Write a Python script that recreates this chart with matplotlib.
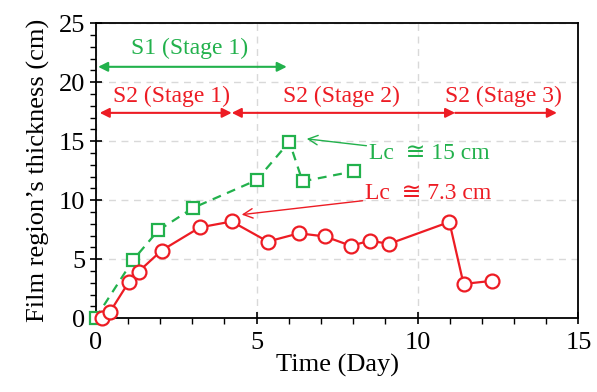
import matplotlib.pyplot as plt
from matplotlib.ticker import MultipleLocator

plt.rcParams['font.family'] = ['Liberation Serif', 'DejaVu Serif', 'DejaVu Sans']

RED = '#ed1c24'
GREEN = '#22b14c'

# Lc = 7.3 cm (red circles)
t_red = [0.19, 0.44, 1.04, 1.34, 2.05, 3.24, 4.23, 5.35, 6.32, 7.13, 7.93,
         8.52, 9.12, 10.99, 11.43, 12.31]
h_red = [0.05, 0.5, 3.1, 3.96, 5.74, 7.7, 8.2, 6.5, 7.2, 6.93, 6.14,
         6.57, 6.31, 8.16, 2.91, 3.17]

# Lc = 15 cm (green squares)
t_green = [0.0, 1.17, 1.95, 3.03, 5.0, 6.02, 6.43, 8.03]
h_green = [0.0, 4.95, 7.45, 9.35, 11.7, 14.95, 11.6, 12.45]

fig = plt.figure(figsize=(5.97, 3.92), dpi=100)
ax = fig.add_axes([0.160, 0.188, 0.809, 0.753])

ax.plot(t_green, h_green, color=GREEN, lw=1.6, ls=(0, (4, 3)), marker='s',
        ms=9, mfc='white', mec=GREEN, mew=1.6, clip_on=False, zorder=3)
ax.plot(t_red, h_red, color=RED, lw=1.6, marker='o', ms=10,
        mfc='white', mec=RED, mew=1.6, clip_on=False, zorder=4)

ax.set_xlim(0, 15)
ax.set_ylim(0, 25)
ax.xaxis.set_major_locator(MultipleLocator(5))
ax.xaxis.set_minor_locator(MultipleLocator(1))
ax.yaxis.set_major_locator(MultipleLocator(5))
ax.yaxis.set_minor_locator(MultipleLocator(1))
ax.tick_params(which='major', direction='inout', length=8, width=1.2,
               labelsize=19, top=False, right=False)
ax.tick_params(which='minor', direction='out', length=4, width=1.0,
               top=False, right=False)
ax.tick_params(axis='x', pad=6)
ax.grid(True, which='major', color='#d9d9d9', ls=(0, (5, 4)), lw=1.0)
for s in ax.spines.values():
    s.set_linewidth(1.3)

ax.set_xlabel('Time (Day)', fontsize=19, labelpad=0)
ax.set_ylabel('Film region\u2019s thickness (cm)', fontsize=19, labelpad=6)

# stage arrows
arr = dict(arrowstyle='<|-|>', color=GREEN, lw=1.5, mutation_scale=14,
           shrinkA=0, shrinkB=0)
ax.annotate('', xy=(5.94, 21.3), xytext=(0.08, 21.3), arrowprops=arr,
            annotation_clip=False)
ax.text(2.93, 22.9, 'S1 (Stage 1)', color=GREEN, fontsize=17,
        ha='center', va='center')

arr_r = dict(arr, color=RED)
ax.annotate('', xy=(4.23, 17.4), xytext=(0.13, 17.4), arrowprops=arr_r)
ax.annotate('', xy=(11.17, 17.4), xytext=(4.23, 17.4), arrowprops=arr_r)
ax.annotate('', xy=(14.33, 17.4), xytext=(11.17, 17.4),
            arrowprops=dict(arr_r, arrowstyle='-|>'))
ax.text(2.36, 18.8, 'S2 (Stage 1)', color=RED, fontsize=17,
        ha='center', va='center')
ax.text(7.65, 18.8, 'S2 (Stage 2)', color=RED, fontsize=17,
        ha='center', va='center')
ax.text(12.67, 18.8, 'S2 (Stage 3)', color=RED, fontsize=17,
        ha='center', va='center')

# Lc labels
ax.annotate('Lc  \u2245 15 cm', xy=(6.56, 15.2), xytext=(8.5, 14.0),
            color=GREEN, fontsize=17, ha='left', va='center',
            arrowprops=dict(arrowstyle='->', color=GREEN, lw=1.0,
                            shrinkA=0, shrinkB=0))
ax.annotate('Lc  \u2245 7.3 cm', xy=(4.54, 8.78), xytext=(8.38, 10.6),
            color=RED, fontsize=17, ha='left', va='center',
            arrowprops=dict(arrowstyle='->', color=RED, lw=1.0,
                            shrinkA=0, shrinkB=0))

fig.savefig('out.png', dpi=100)
